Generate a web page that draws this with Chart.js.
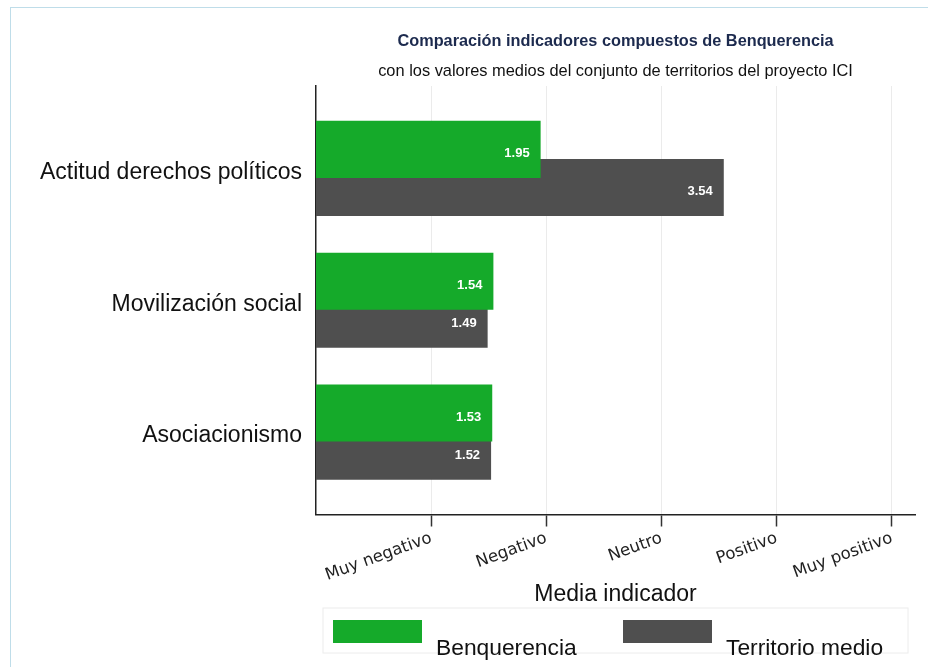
<!DOCTYPE html>
<html>
<head>
<meta charset="utf-8">
<script src="https://cdn.jsdelivr.net/npm/chart.js@4.4.0/dist/chart.umd.min.js"></script>
<style>
    html, body { margin: 0; padding: 0; background: #fff; }
    #frame { position: absolute; left: 10px; top: 7px; width: 1000px; height: 1000px; border: 1px solid #bfdde9; }
    #wrap { position: absolute; left: 0; top: 0; width: 928px; height: 667px; }
</style>
</head>
<body>
<div id="frame"></div>
<div id="wrap"><canvas id="chart" width="928" height="667"></canvas></div>
<script>
// datos
const categories = ['Actitud derechos políticos', 'Movilización social', 'Asociacionismo'];
const benquerencia = [1.95, 1.54, 1.53];
const territorioMedio = [3.54, 1.49, 1.52];
const tickValues = [1, 2, 3, 4, 5];
const tickLabels = ['Muy negativo', 'Negativo', 'Neutro', 'Positivo', 'Muy positivo'];
const seriesNames = ['Benquerencia', 'Territorio medio'];
const seriesColors = ['#15aa2a', '#4f4f4f'];
const titleText = 'Comparación indicadores compuestos de Benquerencia';
const subtitleText = 'con los valores medios del conjunto de territorios del proyecto ICI';

const sans = '"Liberation Sans", Arial, Helvetica, sans-serif';

function toPoints(values) {
    return values.map((v, i) => ({ x: v, y: i }));
}

// títulos centrados sobre el área del gráfico
const titlesPlugin = {
    id: 'titles',
    afterDraw(chart) {
        const { ctx, chartArea } = chart;
        const cx = (chartArea.left + chartArea.right) / 2;
        ctx.save();
        ctx.textAlign = 'center';
        ctx.textBaseline = 'middle';
        ctx.fillStyle = '#1c2a4e';
        ctx.font = 'bold 16.3px ' + sans;
        ctx.fillText(titleText, cx, chartArea.top - 44);
        ctx.fillStyle = '#111';
        ctx.font = '16.4px ' + sans;
        ctx.fillText(subtitleText, cx, chartArea.top - 15);
        ctx.restore();
    }
};

// etiquetas de valor dentro de las barras
const barLabelsPlugin = {
    id: 'barLabels',
    afterDatasetsDraw(chart) {
        const { ctx } = chart;
        ctx.save();
        ctx.font = 'bold 13px ' + sans;
        ctx.fillStyle = '#fff';
        ctx.textAlign = 'right';
        ctx.textBaseline = 'middle';
        chart.data.datasets.forEach((ds, di) => {
            chart.getDatasetMeta(di).data.forEach((bar, i) => {
                ctx.fillText(ds.data[i].x.toFixed(2), bar.x - 11, bar.y + 4);
            });
        });
        ctx.restore();
    }
};

// leyenda abajo, con marco claro
const legendPlugin = {
    id: 'bottomLegend',
    afterDraw(chart) {
        const { ctx, chartArea } = chart;
        const cx = (chartArea.left + chartArea.right) / 2;
        const top = chartArea.bottom + 93.5;
        ctx.save();
        ctx.strokeStyle = '#ececec';
        ctx.lineWidth = 1;
        ctx.strokeRect(cx - 292.5, top, 585, 45);
        ctx.font = '22.8px ' + sans;
        ctx.textAlign = 'left';
        ctx.textBaseline = 'alphabetic';
        const offsets = [-282.5, 7.5];
        chart.data.datasets.forEach((ds, di) => {
            const x = cx + offsets[di];
            ctx.fillStyle = ds.backgroundColor;
            ctx.fillRect(x, top + 12, 89, 23);
            ctx.fillStyle = '#111';
            ctx.fillText(ds.label, x + 103, top + 47);
        });
        ctx.restore();
    }
};

const ctx = document.getElementById('chart').getContext('2d');
const chart = new Chart(ctx, {
    type: 'bar',
    data: {
        datasets: [
            { label: seriesNames[0], data: toPoints(benquerencia), backgroundColor: seriesColors[0] },
            { label: seriesNames[1], data: toPoints(territorioMedio), backgroundColor: seriesColors[1] }
        ]
    },
    options: {
        indexAxis: 'y',
        responsive: false,
        animation: false,
        categoryPercentage: 0.577,
        barPercentage: 1.5,
        layout: { padding: { top: 86, right: 13, bottom: 58.5, left: 0 } },
        plugins: {
            legend: { display: false },
            tooltip: { enabled: false }
        },
        scales: {
            x: {
                type: 'linear',
                min: 0,
                max: 5.2,
                afterBuildTicks: s => { s.ticks = tickValues.map(v => ({ value: v })); },
                afterFit: s => { s.height = 94; },
                grid: { color: '#ebebeb', lineWidth: 1, tickColor: '#333', tickLength: 12, tickWidth: 1.5 },
                border: { color: '#222', width: 1.5 },
                ticks: {
                    autoSkip: false,
                    minRotation: 20,
                    maxRotation: 20,
                    padding: 2,
                    color: '#222',
                    font: { family: '"DejaVu Sans", Verdana, sans-serif', size: 16.5 },
                    callback: v => tickLabels[tickValues.indexOf(v)]
                },
                title: {
                    display: true,
                    text: 'Media indicador',
                    color: '#111',
                    padding: { top: 0, bottom: 0 },
                    font: { family: sans, size: 23 }
                }
            },
            y: {
                type: 'linear',
                reverse: true,
                offset: false,
                min: -0.625,
                max: 2.625,
                afterBuildTicks: s => { s.ticks = categories.map((c, i) => ({ value: i })); },
                afterFit: s => { s.width = 316; },
                grid: { display: false, drawTicks: false },
                border: { display: true, color: '#222', width: 1.5 },
                ticks: {
                    padding: 14,
                    labelOffset: 4,
                    color: '#111',
                    font: { family: sans, size: 23 },
                    callback: v => categories[v]
                }
            }
        }
    },
    plugins: [titlesPlugin, barLabelsPlugin, legendPlugin]
});
</script>
</body>
</html>
